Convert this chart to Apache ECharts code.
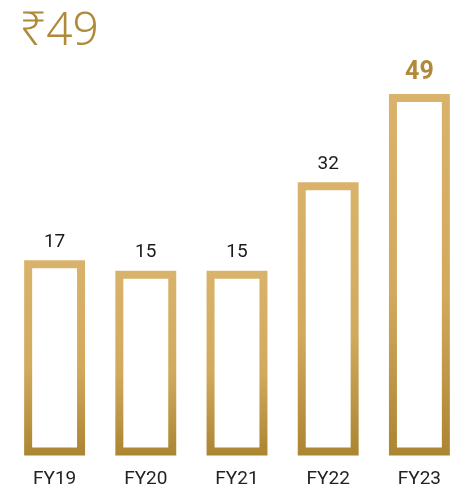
<!DOCTYPE html>
<html>
<head>
<meta charset="utf-8">
<script src="https://cdn.jsdelivr.net/npm/echarts@6/dist/echarts.min.js"></script>
<style>
  html, body { margin: 0; padding: 0; background: #fff; }
  #chart { width: 451px; height: 489px; }
</style>
</head>
<body>
<div id="chart"></div>
<script>
const years = ["FY19", "FY20", "FY21", "FY22", "FY23"];
const values = [17, 15, 15, 32, 49];
const headline = "₹49";

const gold = "#b08a3a";
const yMin = -19;
const yMax = 50;

const chart = echarts.init(document.getElementById("chart"));

function barStroke() {
  return new echarts.graphic.LinearGradient(0, 0, 0, 1, [
    { offset: 0, color: "#d9b36b" },
    { offset: 0.55, color: "#d2aa5e" },
    { offset: 1, color: "#ab8532" },
  ]);
}

const option = {
  animation: false,
  title: {
    text: headline,
    left: 15,
    top: 4,
    textStyle: {
      color: gold,
      fontSize: 46,
      fontWeight: 300,
      fontFamily: "Noto Sans",
    },
  },
  grid: { left: 9, top: 92.7, width: 456, height: 358.8, outerBoundsMode: "none" },
  xAxis: {
    type: "category",
    data: years,
    axisLine: { show: false },
    axisTick: { show: false },
    axisLabel: {
      color: "#222",
      fontSize: 19,
      fontFamily: "Roboto",
      margin: 18,
    },
  },
  yAxis: {
    type: "value",
    min: yMin,
    max: yMax,
    show: false,
    splitLine: { show: false },
  },
  series: [
    {
      type: "custom",
      data: values,
      renderItem: function (params, api) {
        const idx = params.dataIndex;
        const v = api.value(0);
        const top = api.coord([idx, v]);
        const bottom = api.coord([idx, yMin]);
        const w = api.size([1, 0])[0] * 0.58;
        const last = idx === values.length - 1;
        return {
          type: "rect",
          shape: { x: top[0] - w / 2, y: top[1], width: w, height: bottom[1] - top[1] },
          style: { fill: "rgba(0,0,0,0)", stroke: barStroke(), lineWidth: 8 },
          textContent: {
            style: {
              text: String(v),
              fill: last ? gold : "#1a1a1a",
              fontSize: last ? 25 : 19,
              fontWeight: last ? "bold" : "normal",
              fontFamily: "Roboto",
            },
          },
          textConfig: { position: "top", distance: 9 },
        };
      },
      encode: { x: -1, y: 0 },
    },
  ],
};

chart.setOption(option);
</script>
</body>
</html>
